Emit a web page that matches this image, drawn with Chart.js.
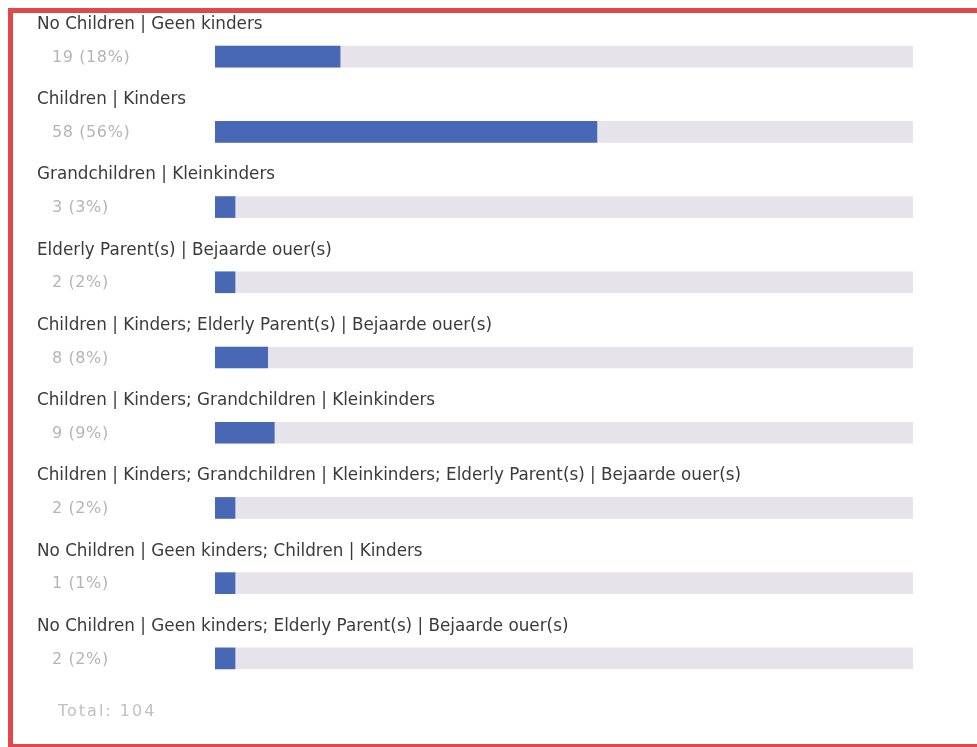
<!DOCTYPE html>
<html>
<head>
<meta charset="utf-8">
<script src="https://cdn.jsdelivr.net/npm/chart.js@4/dist/chart.umd.min.js"></script>
<style>
  html, body { margin: 0; padding: 0; background: #ffffff; }
  #frame { position: relative; width: 977px; height: 747px; }
  #chart { position: absolute; left: 0; top: 0; }
</style>
</head>
<body>
<div id="frame"><canvas id="chart" width="977" height="747"></canvas></div>
<script>
// Survey answers: household members respondents care for
const categories = [
  'No Children | Geen kinders',
  'Children | Kinders',
  'Grandchildren | Kleinkinders',
  'Elderly Parent(s) | Bejaarde ouer(s)',
  'Children | Kinders; Elderly Parent(s) | Bejaarde ouer(s)',
  'Children | Kinders; Grandchildren | Kleinkinders',
  'Children | Kinders; Grandchildren | Kleinkinders; Elderly Parent(s) | Bejaarde ouer(s)',
  'No Children | Geen kinders; Children | Kinders',
  'No Children | Geen kinders; Elderly Parent(s) | Bejaarde ouer(s)'
];
const counts = [19, 58, 3, 2, 8, 9, 2, 1, 2];
const totalLabel = 'Total: ';
const axisMax = 106;

const total = counts.reduce((a, b) => a + b, 0);
const countLabels = counts.map(v => v + ' (' + Math.round(v / total * 100) + '%)');
const trackValues = counts.map(() => axisMax);

const BLUE = '#4868b6';
const TRACK = '#e7e3ea';
const BORDER = '#e2474c';

// Answer text above each bar, count to its left, total underneath, and the frame
const annotate = {
  id: 'annotate',
  beforeDraw(chart) {
    const c = chart.ctx;
    c.save();
    c.fillStyle = '#ffffff';
    c.fillRect(0, 0, chart.width, chart.height);
    c.restore();
  },
  afterDraw(chart) {
    const c = chart.ctx;
    const y = chart.scales.y;
    c.save();
    c.textBaseline = 'middle';
    c.textAlign = 'left';
    categories.forEach((label, i) => {
      const cy = y.getPixelForValue(i);
      c.letterSpacing = '0px';
      c.font = '16.8px "DejaVu Sans", sans-serif';
      c.fillStyle = '#3a3a3a';
      c.fillText(label, 37, cy - 32);
      c.font = '16px "DejaVu Sans", sans-serif';
      c.letterSpacing = '0.6px';
      c.fillStyle = '#b4b4b4';
      c.fillText(countLabels[i], 52, cy + 1);
    });
    c.font = '16px "DejaVu Sans", sans-serif';
    c.letterSpacing = '2px';
    c.fillStyle = '#c0c0c0';
    c.fillText(totalLabel + total, 58, y.getPixelForValue(categories.length - 1) + 53);
    c.letterSpacing = '0px';

    // red frame
    c.fillStyle = BORDER;
    c.fillRect(8, 8, chart.width - 8, 5);
    c.fillRect(8, 8, 5, chart.height - 8);
    c.fillRect(8, chart.height - 3, chart.width - 8, 3);
    c.restore();
  }
};

new Chart(document.getElementById('chart'), {
  type: 'bar',
  data: {
    labels: categories,
    datasets: [
      {
        label: 'Responses',
        data: counts,
        backgroundColor: BLUE,
        barThickness: 21,
        minBarLength: 20,
        grouped: false,
        order: 0
      },
      {
        label: 'Track',
        data: trackValues,
        backgroundColor: TRACK,
        barThickness: 21,
        grouped: false,
        order: 1
      }
    ]
  },
  options: {
    indexAxis: 'y',
    responsive: false,
    animation: false,
    layout: { padding: { left: 215, right: 64, top: 19, bottom: 51 } },
    plugins: { legend: { display: false }, tooltip: { enabled: false } },
    scales: {
      x: { display: false, min: 0, max: axisMax },
      y: { display: false }
    }
  },
  plugins: [annotate]
});
</script>
</body>
</html>
